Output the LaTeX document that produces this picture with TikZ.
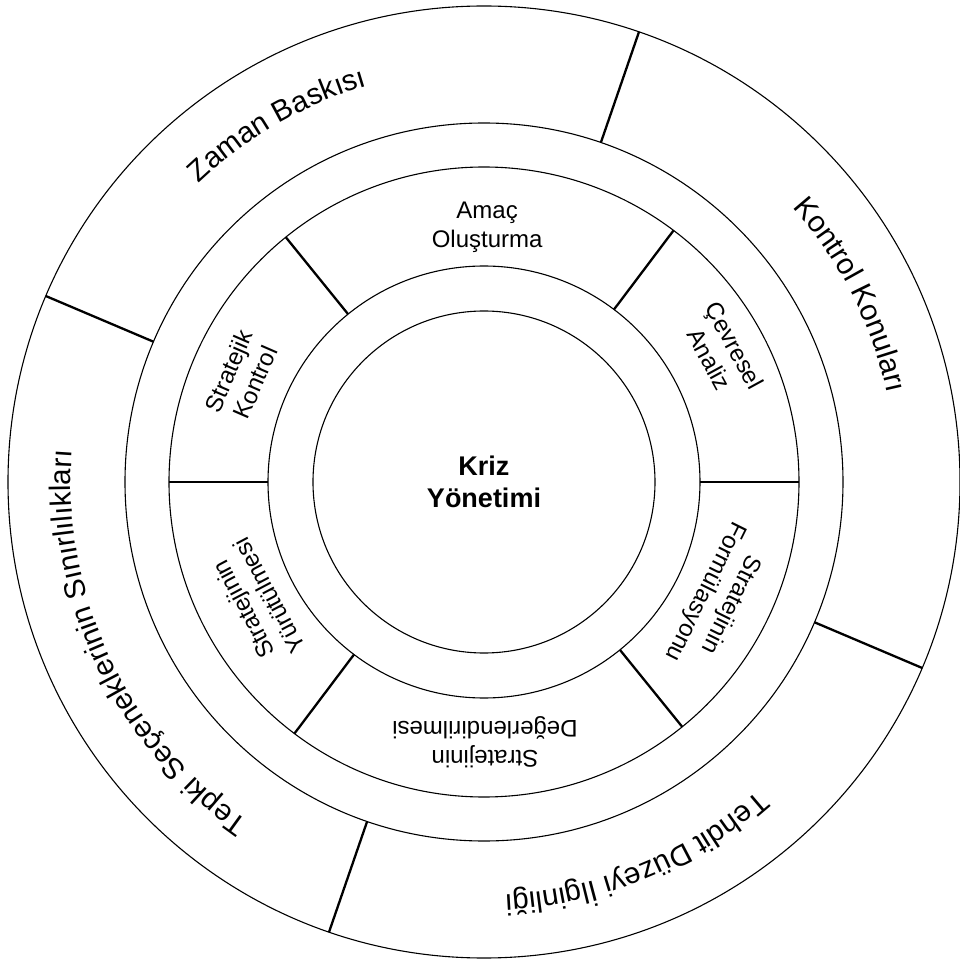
\documentclass[tikz,border=0pt]{standalone}
\usepackage{fontspec}
\setmainfont{Liberation Sans}
\usetikzlibrary{decorations.text}
\newcommand{\outerfont}{\fontsize{29.5}{35}\selectfont}
\begin{document}
\begin{tikzpicture}[
  ring/.style={circle, draw, line width=1.1pt, inner sep=0pt, outer sep=0pt, minimum size=#1},
  sepline/.style={line width=2.3pt},
  midlabel/.style={align=center, font=\fontsize{24}{29}\selectfont, inner sep=0pt},
  arctext/.style={decorate, decoration={text along path, text align=center, text={|\outerfont|#1}}}
]
\useasboundingbox (-484pt,-479pt) rectangle (475pt,482pt);
% rings
\node[ring=952pt] (c5) at (0,0) {};
\node[ring=718pt] (c4) at (0,0) {};
\node[ring=630pt] (c3) at (0,0) {};
\node[ring=432pt] (c2) at (0,0) {};
\node[ring=342pt, font=\fontsize{27}{32}\selectfont\bfseries, align=center] (c1) at (0,0) {Kriz\\Yönetimi};
% separators of the middle ring
\foreach \a in {0,53,129,180,233.5,309}
  \draw[sepline] (c2.\a) -- (c3.\a);
% separators of the outer ring
\foreach \a in {71.5,157.5,251.5,337.5}
  \draw[sepline] (c4.\a) -- (c5.\a);
% middle ring labels
\node[midlabel, rotate=-61.4] (l1) at (28.6:271pt) {Çevresel\\Analiz};
\node[midlabel] (l2) at (89.3:255pt) {Amaç\\Oluşturma};
\node[midlabel, rotate=66.5] (l3) at (156.5:264pt) {Stratejik\\Kontrol};
\node[midlabel, rotate=117.9] (l4) at (207.9:258pt) {Stratejinin\\Yürütülmesi};
\node[midlabel, rotate=180.2] (l5) at (270.2:260pt) {Stratejinin\\Değerlendirilmesi};
\node[midlabel, rotate=243.6] (l6) at (333.6:261pt) {Stratejinin\\Formülasyonu};
% outer ring labels along arcs
\path[arctext={Zaman Baskısı}] (160:413pt) arc[start angle=160, end angle=80, radius=413pt];
\path[arctext={Kontrol Konuları}] (67:413pt) arc[start angle=67, end angle=-13, radius=413pt];
\path[arctext={Tepki Seçeneklerinin Sınırlılıkları}] (250:413pt) arc[start angle=250, end angle=161, radius=413pt];
\path[arctext={Tehdit Düzeyi İlginliği}] (334:413pt) arc[start angle=334, end angle=250.6, radius=413pt];
\end{tikzpicture}
\end{document}
